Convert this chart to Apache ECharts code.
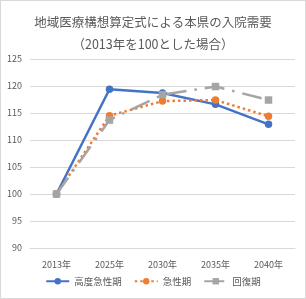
<!DOCTYPE html>
<html>
<head>
<meta charset="utf-8">
<script src="https://cdn.jsdelivr.net/npm/echarts@6/dist/echarts.min.js"></script>
<style>
  html, body { margin: 0; padding: 0; background: #fff; }
  #chart { width: 304px; height: 297px; border: 1px solid #d9d9d9; }
</style>
</head>
<body>
<div id="chart"></div>
<script>
const titleLines = ['地域医療構想算定式による本県の入院需要', '（2013年を100とした場合）']
const years = ['2013年', '2025年', '2030年', '2035年', '2040年']
const highAcute = [100, 119.4, 118.7, 116.6, 112.9]
const acute = [100, 114.5, 117.2, 117.4, 114.4]
const recovery = [100, 113.7, 118.4, 119.9, 117.4]
const seriesNames = ['高度急性期', '急性期', '回復期']

const font = '"Noto Sans CJK JP", "Noto Sans", sans-serif'
const chart = echarts.init(document.getElementById('chart'), null, { renderer: 'canvas' })

chart.setOption({
  animation: false,
  title: {
    text: titleLines.join('\n'),
    left: 'center',
    top: 5,
    textStyle: { fontFamily: font, fontSize: 12.5, fontWeight: 'normal', color: '#595959', lineHeight: 22 }
  },
  legend: {
    bottom: 7,
    left: 'center',
    itemWidth: 23,
    itemHeight: 8,
    itemGap: 12,
    textStyle: { fontFamily: font, fontSize: 9.5, color: '#595959' },
    data: seriesNames
  },
  grid: { left: 29, right: 10, top: 58, bottom: 50 },
  xAxis: {
    type: 'category',
    data: years,
    axisLine: { lineStyle: { color: '#d9d9d9' } },
    axisTick: { show: false },
    axisLabel: { fontFamily: font, fontSize: 9, color: '#595959', margin: 12 }
  },
  yAxis: {
    type: 'value',
    min: 90,
    max: 125,
    interval: 5,
    axisLine: { show: false },
    axisTick: { show: false },
    splitLine: { lineStyle: { color: '#d9d9d9' } },
    axisLabel: { fontFamily: font, fontSize: 9, color: '#595959', margin: 8 }
  },
  series: [
    {
      name: seriesNames[0], type: 'line', data: highAcute,
      symbol: 'circle', symbolSize: 7.5,
      itemStyle: { color: '#4472C4' },
      lineStyle: { color: '#4472C4', width: 2.5 }
    },
    {
      name: seriesNames[1], type: 'line', data: acute,
      symbol: 'circle', symbolSize: 7.5,
      itemStyle: { color: '#ED7D31' },
      lineStyle: { color: '#ED7D31', width: 2.5, type: [2.5, 3] }
    },
    {
      name: seriesNames[2], type: 'line', data: recovery,
      symbol: 'rect', symbolSize: 7.5,
      itemStyle: { color: '#A5A5A5' },
      lineStyle: { color: '#A5A5A5', width: 2.5, type: [20, 8, 2.5, 8] }
    }
  ]
})
</script>
</body>
</html>
